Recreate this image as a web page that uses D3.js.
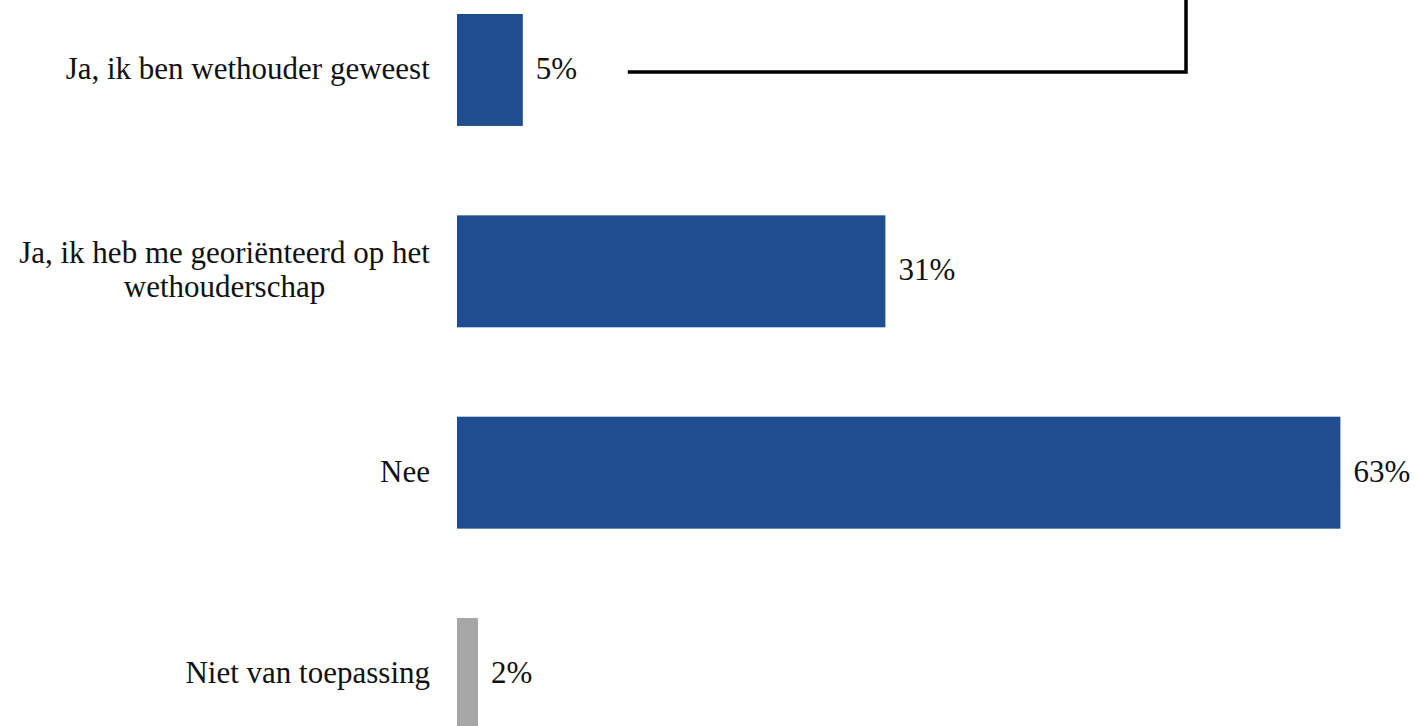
<!DOCTYPE html>
<html><head><meta charset="utf-8">
<script src="https://cdn.jsdelivr.net/npm/d3@7"></script>
<style>html,body{margin:0;padding:0;background:#fff;overflow:hidden}</style>
</head><body>
<svg id="chart" width="1415" height="726"></svg>
<script>
const categories = [
  ["Ja, ik ben wethouder geweest"],
  ["Ja, ik heb me georiënteerd op het", "wethouderschap"],
  ["Nee"],
  ["Niet van toepassing"]
];
const values = [4.7, 30.6, 63.1, 1.5];
const colors = ["#204D8F", "#204D8F", "#204D8F", "#A6A6A6"];
const valueLabels = ["5%", "31%", "63%", "2%"];

const svg = d3.select("#chart");
const font = '"Liberation Serif", "DejaVu Serif", serif';
const fontSize = 31;

const idx = d3.range(values.length);
const x = d3.scaleLinear().domain([0, 100]).range([457, 1857]);
const y = d3.scaleBand().domain(idx).range([14, 730]).paddingInner(0.444).paddingOuter(0);

svg.selectAll("rect.bar").data(idx).join("rect")
  .attr("class", "bar")
  .attr("x", x(0))
  .attr("y", i => y(i))
  .attr("width", i => x(values[i]) - x(0))
  .attr("height", y.bandwidth())
  .attr("fill", i => colors[i]);

svg.selectAll("text.val").data(idx).join("text")
  .attr("class", "val")
  .attr("x", i => x(values[i]) + 13)
  .attr("y", i => y(i) + y.bandwidth() / 2 + 9)
  .style("font-family", font)
  .style("font-size", fontSize + "px")
  .attr("fill", "#111")
  .text(i => valueLabels[i]);

const lh = 34;
svg.selectAll("text.cat").data(idx).join("text")
  .attr("class", "cat")
  .attr("text-anchor", "middle")
  .style("font-family", font)
  .style("font-size", fontSize + "px")
  .attr("fill", "#111")
  .each(function(i) {
    const lines = categories[i];
    const t = d3.select(this);
    const cy = y(i) + y.bandwidth() / 2;
    lines.forEach((ln, k) => {
      t.append("tspan")
        .attr("x", 0)
        .attr("y", cy + 9 + (k - (lines.length - 1) / 2) * lh)
        .text(ln);
    });
  });
svg.selectAll("text.cat").each(function() {
  const t = d3.select(this);
  const w = this.getBBox().width;
  t.selectAll("tspan").attr("x", 430 - w / 2);
});

const by = y(0) + y.bandwidth() / 2 + 2;
svg.append("path")
  .attr("d", `M${x(values[0]) + 105},${by} H1186 V0`)
  .attr("fill", "none")
  .attr("stroke", "#000")
  .attr("stroke-width", 3.5);
</script>
</body></html>
